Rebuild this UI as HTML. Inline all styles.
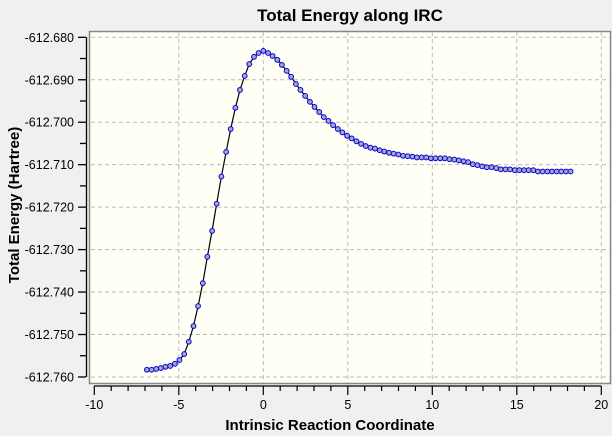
<!DOCTYPE html>
<html><head><meta charset="utf-8"><style>
body{margin:0;background:#f0f0f0;}
svg{display:block;font-family:"Liberation Sans",sans-serif;}
</style></head><body>
<svg id="chart" width="612" height="436">
<rect x="0" y="0" width="612" height="436" fill="#f0f0f0"/>
<text x="350" y="21" text-anchor="middle" font-size="17" font-weight="bold">Total Energy along IRC</text>
<rect x="89.5" y="31.5" width="521" height="352" fill="#fffff6" stroke="#888" stroke-width="1.5"/>
<g id="grid"></g>
<g id="axes"></g>
<g id="series"></g>
<text x="330" y="430" text-anchor="middle" font-size="15" font-weight="bold">Intrinsic Reaction Coordinate</text>
<text transform="translate(19,205) rotate(-90)" text-anchor="middle" font-size="15" font-weight="bold">Total Energy (Hartree)</text>
</svg>
<script>
const xTicks=[-10,-5,0,5,10,15,20];
const yTicks=[-612.68,-612.69,-612.70,-612.71,-612.72,-612.73,-612.74,-612.75,-612.76];
const irc=[-6.89,-6.61,-6.34,-6.06,-5.79,-5.51,-5.23,-4.96,-4.68,-4.41,-4.13,-3.86,-3.58,-3.31,-3.03,-2.76,-2.48,-2.20,-1.93,-1.65,-1.38,-1.10,-0.83,-0.55,-0.28,0,
0.28,0.55,0.83,1.10,1.38,1.65,1.93,2.20,2.48,2.76,3.03,3.31,3.58,3.86,4.13,4.41,4.68,4.96,5.23,5.51,5.79,6.06,6.34,6.61,6.89,7.16,7.44,7.71,7.99,8.27,8.54,8.82,9.09,9.37,9.64,9.92,10.19,10.47,10.74,11.02,11.30,11.57,11.85,12.12,12.40,12.67,12.95,13.22,13.50,13.78,14.05,14.33,14.60,14.88,15.15,15.43,15.70,15.98,16.25,16.53,16.81,17.08,17.36,17.63,17.91,18.18];
const energy=[-612.7583,-612.7583,-612.7581,-612.7579,-612.7576,-612.7574,-612.7569,-612.7560,-612.7546,-612.7517,-612.7480,-612.7433,-612.7379,-612.7317,-612.7256,-612.7192,-612.7128,-612.7070,-612.7016,-612.6966,-612.6924,-612.6891,-612.6863,-612.6846,-612.6837,-612.6832,
-612.6837,-612.6844,-612.6853,-612.6865,-612.6879,-612.6893,-612.6910,-612.6924,-612.6938,-612.6952,-612.6964,-612.6976,-612.6988,-612.6997,-612.7007,-612.7016,
-612.7024,-612.7032,-612.7038,-612.7045,-612.7051,-612.7056,-612.7060,-612.7062,-612.7066,-612.7069,-612.7072,-612.7074,-612.7076,-612.7079,-612.7080,-612.7081,-612.7083,-612.7083,-612.7083,-612.7085,
-612.7085,-612.7085,-612.7085,-612.7087,-612.7088,-612.7090,-612.7092,-612.7094,-612.7099,-612.7101,-612.7104,-612.7106,-612.7106,-612.7108,-612.7111,-612.7111,-612.7111,-612.7113,-612.7113,-612.7113,
-612.7113,-612.7113,-612.7116,-612.7116,-612.7116,-612.7116,-612.7116,-612.7116,-612.7116,-612.7116];
const NS='http://www.w3.org/2000/svg';
const X=v=>263.3+(v)*16.9;
const Y=v=>37.3+(-612.68-v)/0.01*42.46;
function mk(t,a,p){const e=document.createElementNS(NS,t);for(const k in a)e.setAttribute(k,a[k]);p.appendChild(e);return e;}
const grid=document.getElementById('grid'),axes=document.getElementById('axes'),ser=document.getElementById('series');
xTicks.forEach(t=>{if(t<=-10)return;const l=mk('line',{x1:X(t),x2:X(t),y1:32,y2:383,stroke:'#bbb','stroke-dasharray':'4,3'},grid);

});
yTicks.forEach(t=>{const l=mk('line',{x1:91,x2:610,y1:Y(t),y2:Y(t),stroke:'#bbb','stroke-dasharray':'4,3'},grid);

});
mk('line',{x1:86.5,x2:86.5,y1:Y(-612.68),y2:Y(-612.76),stroke:'#000','stroke-width':1.3},axes);
mk('line',{x1:X(-10),x2:X(20),y1:386,y2:386,stroke:'#000','stroke-width':1.3},axes);
yTicks.forEach((t,i)=>{mk('line',{x1:78,x2:86,y1:Y(t),y2:Y(t),stroke:'#000','stroke-width':1.3},axes);
if(i<yTicks.length-1)mk('line',{x1:80,x2:86,y1:Y(t-0.005),y2:Y(t-0.005),stroke:'#000','stroke-width':1.3},axes);
const tx=mk('text',{x:74,y:Y(t)+4.5,'text-anchor':'end','font-size':12.5},axes);tx.textContent=t.toFixed(3);

});
for(let v=-10;v<=20;v++){const maj=v%5===0;mk('line',{x1:X(v),x2:X(v),y1:386,y2:maj?395:391,stroke:'#000','stroke-width':1.2},axes);}
xTicks.forEach(t=>{const tx=mk('text',{x:X(t),y:409,'text-anchor':'middle','font-size':12.5},axes);tx.textContent=t;

});
const pl=mk('polyline',{points:irc.map((x,i)=>X(x)+','+Y(energy[i])).join(' '),fill:'none',stroke:'#000','stroke-width':1.2},ser);


irc.forEach((x,i)=>{const c=mk('circle',{cx:X(x),cy:Y(energy[i]),r:2.4,fill:'#a8a8b8',stroke:'#0000ee','stroke-width':1},ser);

});
</script>
</body></html>
